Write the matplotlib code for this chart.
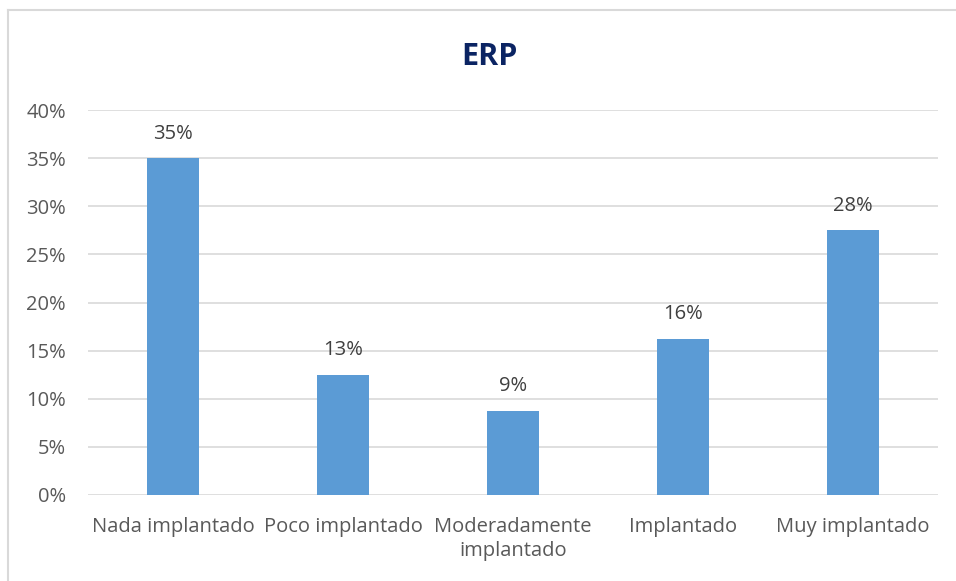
import matplotlib.pyplot as plt
from matplotlib.lines import Line2D

# Datos del gráfico
categorias = ["Nada implantado", "Poco implantado", "Moderadamente\nimplantado",
              "Implantado", "Muy implantado"]
valores = [35.0, 12.5, 8.75, 16.25, 27.5]
etiquetas = ["35%", "13%", "9%", "16%", "28%"]
ticks_y = [0, 5, 10, 15, 20, 25, 30, 35, 40]

plt.rcParams['font.family'] = ['Open Sans', 'DejaVu Sans']
gris = '#595959'

fig = plt.figure(figsize=(9.56, 5.81), dpi=100)
ax = fig.add_axes([88 / 956, 1 - 495 / 581, 850 / 956, 385 / 581])

x = range(len(categorias))
ax.bar(x, valores, width=0.306, color='#5B9BD5', zorder=3)

for xi, v, t in zip(x, valores, etiquetas):
    ax.text(xi, v + 1.5, t, ha='center', va='bottom', fontsize=14.5, color='#404040')

ax.set_xlim(-0.5, len(categorias) - 0.5)
ax.set_ylim(0, 40)
ax.set_yticks(ticks_y)
ax.set_yticklabels([f"{t}%" for t in ticks_y])
ax.set_xticks(list(x))
ax.set_xticklabels(categorias, linespacing=1.25)
ax.tick_params(axis='both', length=0, labelsize=14.5, colors=gris)
ax.tick_params(axis='x', pad=16)
ax.tick_params(axis='y', pad=16)
ax.grid(axis='y', color='#D9D9D9', linewidth=1.2, zorder=0)
for s in ax.spines.values():
    s.set_visible(False)

fig.text(489 / 956, 1 - 57 / 581, "ERP", ha='center', va='center',
         fontsize=22, fontweight='bold', color='#0B2463')

# marco del gráfico
fig.add_artist(Line2D([8 / 956, 1.0], [1 - 10 / 581, 1 - 10 / 581],
                      transform=fig.transFigure, color='#D9D9D9', linewidth=1.5))
fig.add_artist(Line2D([8 / 956, 8 / 956], [0, 1 - 10 / 581],
                      transform=fig.transFigure, color='#D9D9D9', linewidth=1.5))

fig.savefig('out.png', dpi=100)
